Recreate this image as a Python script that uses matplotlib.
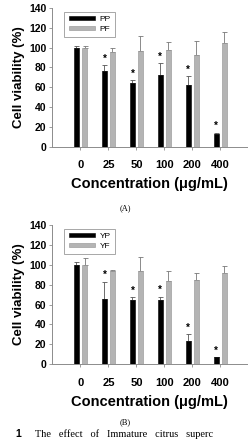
import numpy as np
import matplotlib
matplotlib.use("Agg")
import matplotlib.pyplot as plt

plt.rcParams['font.family'] = ['Liberation Sans', 'DejaVu Sans']

conc = ["0", "25", "50", "100", "200", "400"]

# panel A
pp = [100, 76, 64.5, 72, 62, 13]
pp_err = [2, 6, 2.5, 12, 9, 1]
pf = [100, 95, 96.5, 97, 92, 105]
pf_err = [1.5, 5, 15.5, 9, 15, 11]

# panel B
yp = [100, 66, 65, 65, 23, 7]
yp_err = [3, 17, 2.5, 3, 7, 0.5]
yf = [100, 93.5, 93.5, 84, 85, 91.5]
yf_err = [7, 1, 14, 10, 7, 7]

stars = [False, True, True, True, True, True]

fig = plt.figure(figsize=(2.51, 4.40), dpi=100)
axA = fig.add_axes([0.209, 0.667, 0.775, 0.315])
axB = fig.add_axes([0.209, 0.172, 0.775, 0.317])


def panel(ax, v1, e1, v2, e2, names):
    x = np.arange(len(conc))
    w = 0.2
    off = 0.145
    ax.bar(x - off, v1, w, color='black', edgecolor='black', linewidth=0.4,
           label=names[0], zorder=2)
    ax.bar(x + off, v2, w, color='#b4b4b4', edgecolor='#909090', linewidth=0.4,
           label=names[1], zorder=2)
    ax.errorbar(x - off, v1, yerr=[np.zeros(len(v1)), e1], fmt='none',
                ecolor='#555555', elinewidth=0.6, capsize=1.8, capthick=0.6, zorder=1)
    ax.errorbar(x + off, v2, yerr=[np.zeros(len(v2)), e2], fmt='none',
                ecolor='#777777', elinewidth=0.6, capsize=1.8, capthick=0.6, zorder=1)
    for i in range(len(conc)):
        if stars[i]:
            ax.text(x[i] - off, v1[i] + e1[i] + 1.5, '*', ha='center', va='bottom',
                    fontsize=7, fontweight='bold')
    ax.set_xlim(-1, 5.95)
    ax.set_ylim(0, 140)
    ax.set_yticks(range(0, 141, 20))
    ax.set_xticks(x)
    ax.set_xticklabels(conc)
    for s in ['top', 'right']:
        ax.spines[s].set_visible(False)
    for s in ['left', 'bottom']:
        ax.spines[s].set_color('#8c8c8c')
        ax.spines[s].set_linewidth(0.7)
    ax.tick_params(axis='y', length=2.5, width=0.6, color='#8c8c8c', labelsize=7.5, pad=2)
    ax.tick_params(axis='x', length=2, width=0.6, color='#8c8c8c', labelsize=8, pad=8)
    for t in ax.get_xticklabels() + ax.get_yticklabels():
        t.set_fontweight('bold')
    ax.set_ylabel('Cell viability (%)', fontsize=9.5, fontweight='bold', labelpad=3)
    ax.set_xlabel('Concentration (\u03bcg/mL)', fontsize=10.5, fontweight='bold', labelpad=5)
    leg = ax.legend(loc='upper left', bbox_to_anchor=(0.04, 1.0), fontsize=6,
                    handlelength=3.2, handleheight=0.35, handletextpad=0.5,
                    borderpad=0.5, labelspacing=0.3, fancybox=False, framealpha=1)
    leg.get_frame().set_edgecolor('#999999')
    leg.get_frame().set_linewidth(0.6)


panel(axA, pp, pp_err, pf, pf_err, ['PP', 'PF'])
panel(axB, yp, yp_err, yf, yf_err, ['YP', 'YF'])

fig.text(0.5, 1 - 208 / 440, '(A)', ha='center', va='center', fontsize=6,
         family='Liberation Serif')
fig.text(0.5, 1 - 422 / 440, '(B)', ha='center', va='center', fontsize=6,
         family='Liberation Serif')
fig.text(0.06, 0.003, '1', ha='left', va='bottom', fontsize=7.5, fontweight='bold')
fig.text(0.14, 0.003, 'The   effect   of   Immature   citrus   superc',
         ha='left', va='bottom', fontsize=7.5, family='Liberation Serif')

fig.savefig('out.png', dpi=100)
